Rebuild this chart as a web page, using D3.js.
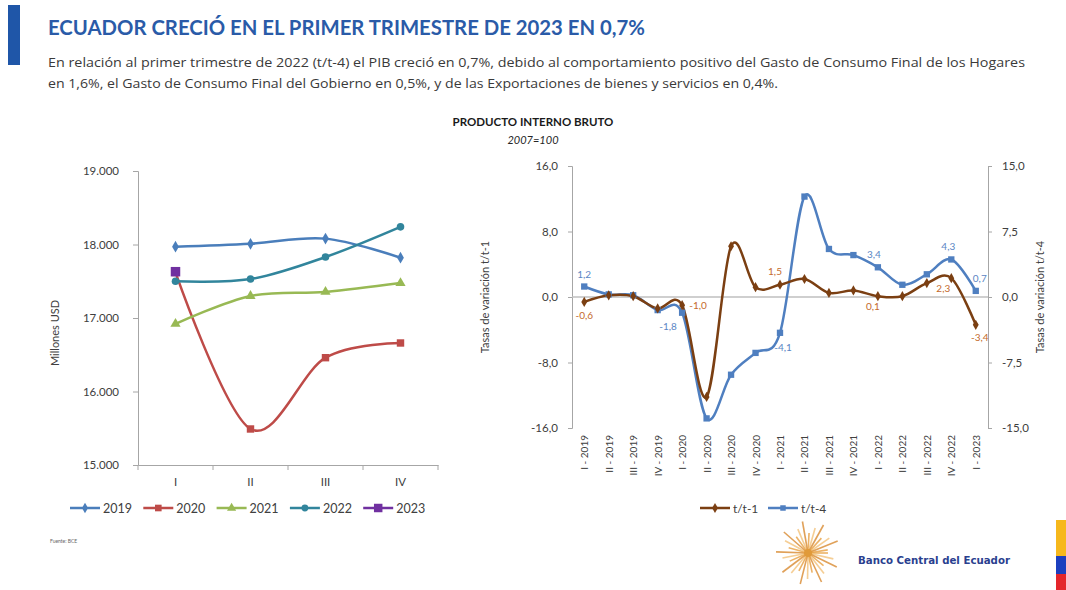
<!DOCTYPE html>
<html>
<head>
<meta charset="utf-8">
<script src="https://cdn.jsdelivr.net/npm/d3@7"></script>
<style>
  html, body { margin: 0; padding: 0; background: #fff; }
  svg { display: block; font-family: Lato, "Open Sans", "Liberation Sans", sans-serif; }
</style>
</head>
<body>
<svg id="chart" width="1066" height="590"></svg>
<script>
// ---- Left chart: PIB trimestral por año (millones USD) ----
const quarters = ["I", "II", "III", "IV"];
const years = ["2019", "2020", "2021", "2022", "2023"];
const pib2019 = [17970, 18010, 18080, 17820];
const pib2020 = [17620, 15490, 16460, 16660];
const pib2021 = [16920, 17300, 17355, 17475];
const pib2022 = [17500, 17530, 17830, 18240];
const pib2023 = [17630];
const pibTicks = [15000, 16000, 17000, 18000, 19000];

// ---- Right chart: tasas de variación ----
const periods = ["I - 2019", "II - 2019", "III - 2019", "IV - 2019",
  "I - 2020", "II - 2020", "III - 2020", "IV - 2020",
  "I - 2021", "II - 2021", "III - 2021", "IV - 2021",
  "I - 2022", "II - 2022", "III - 2022", "IV - 2022", "I - 2023"];
const tt1 = [-0.6, 0.2, 0.1, -1.4, -1.0, -12.2, 6.2, 1.2, 1.5, 2.2, 0.5, 0.8, 0.1, 0.1, 1.7, 2.3, -3.4];
const tt4 = [1.2, 0.3, 0.2, -1.5, -1.8, -13.9, -8.9, -6.4, -4.1, 11.5, 5.5, 4.8, 3.4, 1.4, 2.6, 4.3, 0.7];
const tt1Labelled = [0, 4, 8, 12, 15, 16];
const tt4Labelled = [0, 4, 8, 12, 15, 16];
const leftTicks = [-16, -8, 0, 8, 16];
const rightTicks = [-15, -7.5, 0, 7.5, 15];

const svg = d3.select("#chart");
const fmt1 = v => d3.format(".1f")(v).replace(".", ",").replace("−", "-");
const fmtThousands = v => d3.format(",")(v).replace(/,/g, ".");
const axisGray = "#a6a6a6";
const textGray = "#404040";

// ---- Header ----
svg.append("rect").attr("x", 8).attr("y", 5).attr("width", 12).attr("height", 60).attr("fill", "#1f56a8");
svg.append("text").attr("x", 48).attr("y", 35)
  .attr("font-size", 20.5).attr("font-weight", 700).attr("fill", "#2a5ba8")
  .attr("textLength", 597).attr("lengthAdjust", "spacingAndGlyphs")
  .text("ECUADOR CRECIÓ EN EL PRIMER TRIMESTRE DE 2023 EN 0,7%");
const sub = [
  { text: "En relación al primer trimestre de 2022 (t/t-4) el PIB creció en 0,7%, debido al comportamiento positivo del Gasto de Consumo Final de los Hogares", width: 977 },
  { text: "en 1,6%, el Gasto de Consumo Final del Gobierno en 0,5%, y de las Exportaciones de bienes y servicios en 0,4%.", width: 730 }
];
svg.selectAll("text.sub").data(sub).join("text").attr("class", "sub")
  .attr("x", 48).attr("y", (d, i) => 67 + i * 21)
  .attr("font-family", "'Open Sans', sans-serif")
  .attr("font-size", 13.2).attr("fill", "#3a3a3a")
  .attr("textLength", d => d.width).attr("lengthAdjust", "spacingAndGlyphs")
  .text(d => d.text);

svg.append("text").attr("x", 533).attr("y", 126).attr("text-anchor", "middle")
  .attr("font-size", 11.5).attr("font-weight", 700).attr("fill", "#1a1a1a").text("PRODUCTO INTERNO BRUTO");
svg.append("text").attr("x", 533).attr("y", 144).attr("text-anchor", "middle")
  .attr("font-size", 11).attr("font-style", "italic").attr("fill", "#262626").text("2007=100");

// ================= Left chart =================
const L = { left: 138, right: 438, top: 171, bottom: 465 };
const xL = d3.scaleBand().domain(quarters).range([L.left, L.right]);
const yL = d3.scaleLinear().domain([15000, 19000]).range([L.bottom, L.top]);

const gL = svg.append("g");
const yAxisL = d3.axisLeft(yL).tickValues(pibTicks).tickFormat(fmtThousands).tickSize(5).tickPadding(14);
gL.append("g").attr("transform", `translate(${L.left},0)`).call(yAxisL)
  .call(g => g.selectAll("path, line").attr("stroke", axisGray))
  .call(g => g.selectAll("text").attr("font-size", 11.5).attr("fill", textGray).attr("font-family", "Lato, sans-serif"));
const xAxisL = d3.axisBottom(xL).tickSize(0).tickPadding(13);
gL.append("g").attr("transform", `translate(0,${L.bottom})`).call(xAxisL)
  .call(g => g.select("path").attr("stroke", axisGray))
  .call(g => g.selectAll("text").attr("font-size", 11.5).attr("fill", textGray).attr("font-family", "Lato, sans-serif"));
// category boundary ticks
gL.selectAll("line.bt").data(d3.range(quarters.length + 1)).join("line").attr("class", "bt")
  .attr("x1", i => L.left + i * xL.step()).attr("x2", i => L.left + i * xL.step())
  .attr("y1", L.bottom).attr("y2", L.bottom + 5).attr("stroke", axisGray);

gL.append("text").attr("transform", `translate(59,${(L.top + L.bottom) / 2 + 15}) rotate(-90)`)
  .attr("text-anchor", "middle").attr("font-size", 11).attr("fill", textGray).text("Millones USD");

const seriesL = [
  { name: "2019", values: pib2019, color: "#4a7ebb", shape: d3.symbolDiamond, size: 40 },
  { name: "2020", values: pib2020, color: "#be4b48", shape: d3.symbolSquare, size: 55 },
  { name: "2021", values: pib2021, color: "#98b954", shape: d3.symbolTriangle, size: 45 },
  { name: "2022", values: pib2022, color: "#31859c", shape: d3.symbolCircle, size: 45 },
  { name: "2023", values: pib2023, color: "#7030a0", shape: d3.symbolSquare, size: 90 }
];
const lineL = d3.line().x((d, i) => xL(quarters[i]) + xL.bandwidth() / 2).y(d => yL(d))
  .curve(d3.curveCatmullRom.alpha(0));
seriesL.forEach(s => {
  gL.append("path").datum(s.values).attr("d", lineL).attr("fill", "none")
    .attr("stroke", s.color).attr("stroke-width", 2.5);
});
seriesL.forEach(s => {
  gL.selectAll(null).data(s.values).join("path")
    .attr("transform", (d, i) => `translate(${xL(quarters[i]) + xL.bandwidth() / 2},${yL(d)})`)
    .attr("d", d3.symbol().type(s.shape).size(s.size)).attr("fill", s.color);
});

// legend left
const legL = gL.append("g").attr("transform", "translate(70,508)");
seriesL.forEach((s, i) => {
  const g = legL.append("g").attr("transform", `translate(${i * 73.3},0)`);
  g.append("line").attr("x1", 0).attr("x2", 30).attr("stroke", s.color).attr("stroke-width", 2.5);
  g.append("path").attr("transform", "translate(15,0)").attr("d", d3.symbol().type(s.shape).size(s.size * 0.8)).attr("fill", s.color);
  g.append("text").attr("x", 33).attr("y", 4.5).attr("font-size", 12.5).attr("fill", textGray).text(s.name);
});

svg.append("text").attr("x", 50).attr("y", 543).attr("font-size", 5).attr("fill", "#666").text("Fuente: BCE");

// ================= Right chart =================
const R = { left: 572, right: 988, top: 166, bottom: 428 };
const xR = d3.scaleBand().domain(periods).range([R.left, R.right]);
const yR1 = d3.scaleLinear().domain([-16, 16]).range([R.bottom, R.top]);
const yR4 = d3.scaleLinear().domain([-15, 15]).range([R.bottom, R.top]);
const gR = svg.append("g");
const cx = i => xR(periods[i]) + xR.bandwidth() / 2;

gR.append("g").attr("transform", `translate(${R.left},0)`)
  .call(d3.axisLeft(yR1).tickValues(leftTicks).tickFormat(fmt1).tickSize(4).tickPadding(10))
  .call(g => g.selectAll("path, line").attr("stroke", axisGray))
  .call(g => g.selectAll("text").attr("font-size", 11.5).attr("fill", textGray).attr("font-family", "Lato, sans-serif"));
gR.append("g").attr("transform", `translate(${R.right},0)`)
  .call(d3.axisRight(yR4).tickValues(rightTicks).tickFormat(fmt1).tickSize(4).tickPadding(10))
  .call(g => g.selectAll("path, line").attr("stroke", axisGray))
  .call(g => g.selectAll("text").attr("font-size", 11.5).attr("fill", textGray).attr("font-family", "Lato, sans-serif"));
// zero line
gR.append("line").attr("x1", R.left).attr("x2", R.right).attr("y1", yR1(0)).attr("y2", yR1(0))
  .attr("stroke", "#bfbfbf").attr("stroke-width", 1.5);
// category labels
gR.selectAll("text.cat").data(periods).join("text").attr("class", "cat")
  .attr("transform", (d, i) => `translate(${cx(i) + 4},${R.bottom + 7}) rotate(-90)`)
  .attr("text-anchor", "end").attr("font-size", 10).attr("fill", textGray).text(d => d);

gR.append("text").attr("transform", `translate(489,${(R.top + R.bottom) / 2}) rotate(-90)`)
  .attr("text-anchor", "middle").attr("font-size", 11).attr("fill", textGray).text("Tasas de variación t/t-1");
gR.append("text").attr("transform", `translate(1044,${(R.top + R.bottom) / 2}) rotate(-90)`)
  .attr("text-anchor", "middle").attr("font-size", 11).attr("fill", textGray).text("Tasas de variación t/t-4");

const brown = "#7b3f12", blue = "#4f7fc0";
const line1 = d3.line().x((d, i) => cx(i)).y(d => yR1(d)).curve(d3.curveCatmullRom.alpha(0));
const line4 = d3.line().x((d, i) => cx(i)).y(d => yR4(d)).curve(d3.curveCatmullRom.alpha(0));

gR.append("path").datum(tt4).attr("d", line4).attr("fill", "none").attr("stroke", blue).attr("stroke-width", 2.5);
gR.append("path").datum(tt1).attr("d", line1).attr("fill", "none").attr("stroke", brown).attr("stroke-width", 2.5);
gR.selectAll("path.m4").data(tt4).join("path").attr("class", "m4")
  .attr("transform", (d, i) => `translate(${cx(i)},${yR4(d)})`)
  .attr("d", d3.symbol().type(d3.symbolSquare).size(40)).attr("fill", blue);
gR.selectAll("path.m1").data(tt1).join("path").attr("class", "m1")
  .attr("transform", (d, i) => `translate(${cx(i)},${yR1(d)})`)
  .attr("d", d3.symbol().type(d3.symbolDiamond).size(30)).attr("fill", brown);

// data labels
const lab4Offsets = { 0: [0, -9], 4: [-14, 17], 8: [3, 18], 12: [-4, -9], 15: [-3, -9], 16: [4, -9] };
const lab1Offsets = { 0: [0, 17], 4: [16, 4], 8: [-5, -10], 12: [-5, 14], 15: [-8, 14], 16: [4, 16] };
gR.selectAll("text.l4").data(tt4Labelled).join("text").attr("class", "l4")
  .attr("x", i => cx(i) + lab4Offsets[i][0]).attr("y", i => yR4(tt4[i]) + lab4Offsets[i][1])
  .attr("text-anchor", "middle").attr("font-size", 10).attr("fill", "#5b86c4").text(i => fmt1(tt4[i]));
gR.selectAll("text.l1").data(tt1Labelled).join("text").attr("class", "l1")
  .attr("x", i => cx(i) + lab1Offsets[i][0]).attr("y", i => yR1(tt1[i]) + lab1Offsets[i][1])
  .attr("text-anchor", "middle").attr("font-size", 10).attr("fill", "#c46a2c").text(i => fmt1(tt1[i]));

// legend right
const legR = [{ name: "t/t-1", color: brown, shape: d3.symbolDiamond }, { name: "t/t-4", color: blue, shape: d3.symbolSquare }];
legR.forEach((s, i) => {
  const g = gR.append("g").attr("transform", `translate(${700 + i * 68},508)`);
  g.append("line").attr("x1", 0).attr("x2", 30).attr("stroke", s.color).attr("stroke-width", 2.5);
  g.append("path").attr("transform", "translate(15,0)").attr("d", d3.symbol().type(s.shape).size(30)).attr("fill", s.color);
  g.append("text").attr("x", 33).attr("y", 4.5).attr("font-size", 12).attr("fill", textGray).text(s.name);
});

// ---- Footer logo ----
const logo = svg.append("g").attr("transform", "translate(808,553)");
const rays = d3.range(0, 360, 13);
logo.selectAll("line").data(rays).join("line")
  .attr("x1", 0).attr("y1", 0)
  .attr("x2", (a, i) => Math.cos(a * Math.PI / 180) * (20 + (i % 3) * 6))
  .attr("y2", (a, i) => Math.sin(a * Math.PI / 180) * (20 + (i % 3) * 6))
  .attr("stroke", (a, i) => ["#e8a040", "#f3c27a", "#d98a30"][i % 3]).attr("stroke-width", 1.6).attr("opacity", 0.8);
logo.append("circle").attr("r", 4).attr("fill", "#e09a3a");
svg.append("text").attr("x", 858).attr("y", 564).attr("font-size", 10).attr("font-weight", 700)
  .attr("font-family", "'DejaVu Sans', sans-serif")
  .attr("textLength", 152).attr("lengthAdjust", "spacingAndGlyphs")
  .attr("fill", "#2a3f8f").text("Banco Central del Ecuador");
// flag stripes
svg.append("rect").attr("x", 1056).attr("y", 520).attr("width", 10).attr("height", 36).attr("fill", "#f6b81c");
svg.append("rect").attr("x", 1056).attr("y", 556).attr("width", 10).attr("height", 18).attr("fill", "#1c3fbf");
svg.append("rect").attr("x", 1056).attr("y", 574).attr("width", 10).attr("height", 16).attr("fill", "#e4262b");
</script>
</body>
</html>
